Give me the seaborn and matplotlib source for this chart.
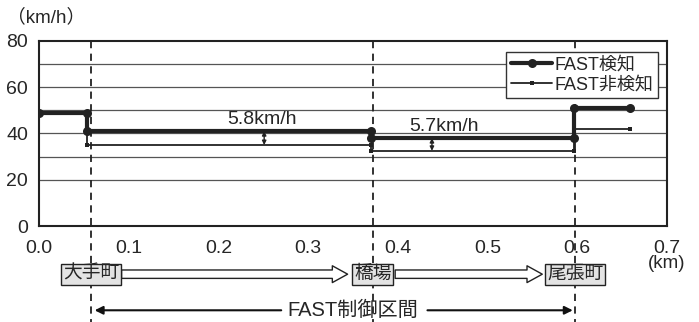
import matplotlib
matplotlib.use("Agg")
import matplotlib.pyplot as plt
import matplotlib.transforms as mtransforms
import numpy as np
import pandas as pd
import seaborn as sns

# section boundaries along the route (km) and mean speed per section (km/h)
edges = [0.0, 0.054, 0.370, 0.596, 0.659]
speed_detect = [49.0, 41.0, 38.0, 51.0]      # FAST検知
speed_nodetect = [49.0, 35.0, 32.5, 42.0]    # FAST非検知

# control section boundaries (dashed lines) and station names
station_x = [0.058, 0.372, 0.598]
station_names = ["大手町", "橋場", "尾張町"]

# speed differences shown in the chart
diff_x = [0.251, 0.438]
diff_labels = ["5.8km/h", "5.7km/h"]
diff_label_x = [0.248, 0.451]
diff_top = [41.0, 38.0]
diff_bottom = [35.0, 32.5]


def step_frame(edges, speeds, name):
    xs, ys = [], []
    for i, v in enumerate(speeds):
        xs += [edges[i], edges[i + 1]]
        ys += [v, v]
    return pd.DataFrame({"km": xs, "speed": ys, "series": name})


sns.set_style("white")
plt.rcParams["font.family"] = ["Liberation Sans", "Noto Sans CJK JP", "DejaVu Sans"]

df_on = step_frame(edges, speed_detect, "FAST検知")
df_off = step_frame(edges, speed_nodetect, "FAST非検知")

fig = plt.figure(figsize=(6.99, 3.22), dpi=100)
ax = fig.add_axes([0.0558, 0.298, 0.8984, 0.575])

# gridlines (no line at 10)
for g in [20, 30, 40, 50, 60, 70]:
    ax.axhline(g, color="#555555", lw=0.9, zorder=0)

sns.lineplot(data=df_off, x="km", y="speed", sort=False, estimator=None,
             color="#222222", lw=1.3, marker="s", markersize=2.5,
             markeredgewidth=0, label="FAST非検知", ax=ax, zorder=3)
sns.lineplot(data=df_on, x="km", y="speed", sort=False, estimator=None,
             color="#222222", lw=3.0, marker="o", markersize=6.5,
             markeredgewidth=0, label="FAST検知", ax=ax, zorder=4)

ax.set_xlim(0, 0.7)
ax.set_ylim(0, 80)
ax.set_xticks(np.arange(0, 0.71, 0.1))
ax.set_xticklabels([f"{v:.1f}" for v in np.arange(0, 0.71, 0.1)])
ax.set_yticks([0, 20, 40, 60, 80])
ax.set_yticks([10, 30, 50, 70], minor=True)
ax.tick_params(axis="both", which="both", direction="in", labelsize=14,
               length=4, width=1, color="#333333")
ax.tick_params(axis="x", pad=10)
ax.tick_params(axis="y", pad=8)
ax.set_xlabel("")
ax.set_ylabel("")
for s in ax.spines.values():
    s.set_color("#222222")
    s.set_linewidth(1.5)

# legend (detect first)
h, l = ax.get_legend_handles_labels()
order = [l.index("FAST検知"), l.index("FAST非検知")]
leg = ax.legend([h[i] for i in order], [l[i] for i in order],
                loc="upper right", bbox_to_anchor=(0.985, 0.94),
                fontsize=13, frameon=True, fancybox=False, framealpha=1,
                edgecolor="#333333", borderpad=0.25, labelspacing=0.15,
                handlelength=2.3, handletextpad=0.1, borderaxespad=0)
leg.get_frame().set_linewidth(1)

# units
fig.text(0.01, 0.945, "（km/h）", fontsize=13.5, va="center", ha="left")
trans = mtransforms.blended_transform_factory(ax.transData, ax.transAxes)
ax.text(0.7, -0.205, "(km)", transform=trans, ha="center", va="center", fontsize=13.5)

# dashed boundary lines extending below the axes
for x in station_x:
    ax.plot([x, x], [1.0, -0.53], transform=trans, color="#222222", lw=1.3,
            ls=(0, (4, 3)), clip_on=False, zorder=5)

# speed difference arrows and labels
for x, lx, top, bot, txt in zip(diff_x, diff_label_x, diff_top, diff_bottom, diff_labels):
    ax.annotate("", xy=(x, bot), xytext=(x, top),
                arrowprops=dict(arrowstyle="<|-|>", color="#222222", lw=1,
                                mutation_scale=6, shrinkA=0, shrinkB=0))
    ax.text(lx, top + 5.0, txt, ha="center", va="center", fontsize=14)

# station boxes and hollow arrows between them
y_st = -0.26
for x, name in zip(station_x, station_names):
    ax.text(x, y_st, name, transform=trans, ha="center", va="center",
            fontsize=13.5, zorder=6,
            bbox=dict(boxstyle="square,pad=0.1", fc="#e3e3e3", ec="#222222", lw=1))
box_half = [0.034, 0.025, 0.034]
for i in range(len(station_x) - 1):
    ax.annotate("", xy=(station_x[i + 1] - box_half[i + 1] - 0.003, y_st),
                xytext=(station_x[i] + box_half[i], y_st),
                xycoords=trans, textcoords=trans,
                arrowprops=dict(arrowstyle="simple,head_length=1.0,head_width=1.1,tail_width=0.55",
                                fc="white", ec="#222222", lw=1, mutation_scale=11,
                                shrinkA=0, shrinkB=0))

# FAST control section
y_ctl = -0.455
ax.text(0.35, y_ctl, "FAST制御区間", transform=trans, ha="center", va="center",
        fontsize=14.5)
ax.annotate("", xy=(station_x[0] + 0.004, y_ctl), xytext=(0.27, y_ctl),
            xycoords=trans, textcoords=trans,
            arrowprops=dict(arrowstyle="-|>", color="#111111", lw=1.5,
                            mutation_scale=12, shrinkA=0, shrinkB=0))
ax.annotate("", xy=(station_x[2] - 0.003, y_ctl), xytext=(0.433, y_ctl),
            xycoords=trans, textcoords=trans,
            arrowprops=dict(arrowstyle="-|>", color="#111111", lw=1.5,
                            mutation_scale=12, shrinkA=0, shrinkB=0))

fig.savefig("out.png", dpi=100)
